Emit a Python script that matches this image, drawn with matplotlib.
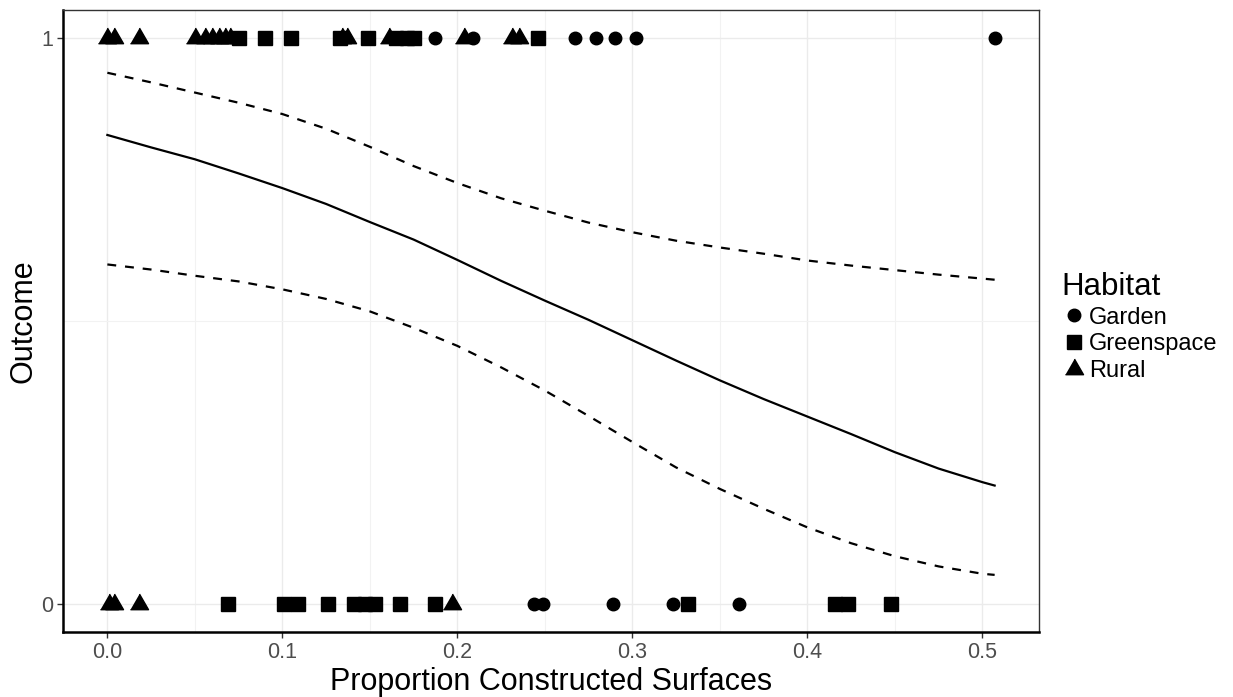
import matplotlib
matplotlib.use("Agg")
import matplotlib.pyplot as plt
from matplotlib.lines import Line2D

plt.rcParams["font.family"] = ["Liberation Sans", "DejaVu Sans"]

# observed points: proportion constructed surfaces, by habitat and outcome
garden_1 = [0.187, 0.209, 0.267, 0.279, 0.290, 0.302, 0.507]
garden_0 = [0.244, 0.249, 0.289, 0.323, 0.361]
green_1 = [0.075, 0.090, 0.105, 0.133, 0.149, 0.165, 0.171, 0.175, 0.246]
green_0 = [0.069, 0.101, 0.109, 0.126, 0.141, 0.147, 0.153, 0.167, 0.187,
           0.332, 0.416, 0.423, 0.448]
rural_1 = [0.000, 0.004, 0.018, 0.050, 0.056, 0.060, 0.064, 0.067, 0.070,
           0.134, 0.137, 0.161, 0.204, 0.231, 0.235]
rural_0 = [0.001, 0.004, 0.018, 0.197]

# fitted curve and confidence band
fit_x = [0.0, 0.025, 0.05, 0.075, 0.1, 0.125, 0.15, 0.175, 0.2, 0.225, 0.25,
         0.275, 0.3, 0.325, 0.35, 0.375, 0.4, 0.425, 0.45, 0.475, 0.5, 0.507]
fit_y = [0.829, 0.807, 0.786, 0.761, 0.735, 0.707, 0.675, 0.644, 0.608, 0.571,
         0.536, 0.502, 0.466, 0.430, 0.395, 0.362, 0.331, 0.300, 0.268, 0.239,
         0.215, 0.209]
upper = [0.939, 0.922, 0.904, 0.886, 0.866, 0.840, 0.808, 0.774, 0.744, 0.717,
         0.695, 0.674, 0.657, 0.642, 0.630, 0.619, 0.607, 0.598, 0.590, 0.582,
         0.575, 0.573]
lower = [0.600, 0.591, 0.580, 0.570, 0.556, 0.539, 0.517, 0.488, 0.456, 0.418,
         0.377, 0.332, 0.286, 0.241, 0.203, 0.168, 0.135, 0.107, 0.084, 0.066,
         0.053, 0.051]

tri = [(-1, -0.5774), (1, -0.5774), (0, 1.1547)]

fig = plt.figure(figsize=(12.33, 6.97), dpi=100)
ax = fig.add_axes([63 / 1233, 1 - 632 / 697, (1039 - 63) / 1233, (632 - 10) / 697])

ax.plot(fit_x, fit_y, color="black", lw=1.6, zorder=2)
ax.plot(fit_x, upper, color="black", lw=1.6, ls=(0, (4, 4)), zorder=2)
ax.plot(fit_x, lower, color="black", lw=1.6, ls=(0, (4, 4)), zorder=2)

ms = dict(color="black", ls="none", zorder=3)
ax.plot(garden_1, [1] * len(garden_1), marker="o", ms=9, **ms)
ax.plot(garden_0, [0] * len(garden_0), marker="o", ms=9, **ms)
ax.plot(green_1, [1] * len(green_1), marker="s", ms=9.5, **ms)
ax.plot(green_0, [0] * len(green_0), marker="s", ms=9.5, **ms)
ax.plot(rural_1, [1] * len(rural_1), marker=tri, ms=15, **ms)
ax.plot(rural_0, [0] * len(rural_0), marker=tri, ms=15, **ms)

ax.set_xlim(-0.02535, 0.53235)
ax.set_ylim(-0.05, 1.05)
ax.set_xticks([0.0, 0.1, 0.2, 0.3, 0.4, 0.5])
ax.set_xticklabels(["0.0", "0.1", "0.2", "0.3", "0.4", "0.5"])
ax.set_yticks([0, 1])
ax.set_yticklabels(["0", "1"])
ax.set_xticks([0.05, 0.15, 0.25, 0.35, 0.45], minor=True)
ax.set_yticks([0.5], minor=True)
ax.grid(True, which="major", color="#EBEBEB", lw=1.0, zorder=0)
ax.grid(True, which="minor", color="#F2F2F2", lw=0.8, zorder=0)
ax.set_axisbelow(True)
ax.tick_params(which="major", length=4, width=1, color="#333333",
               labelsize=15.5, labelcolor="#4D4D4D", pad=3)
ax.tick_params(which="minor", length=0)

for side in ["left", "bottom"]:
    ax.spines[side].set_linewidth(1.8)
    ax.spines[side].set_color("black")
for side in ["top", "right"]:
    ax.spines[side].set_linewidth(1.0)
    ax.spines[side].set_color("#333333")

ax.set_xlabel("Proportion Constructed Surfaces", fontsize=22, labelpad=3)
ax.set_ylabel("Outcome", fontsize=22, labelpad=2)

handles = [
    Line2D([], [], marker="o", ms=9, color="black", ls="none"),
    Line2D([], [], marker="s", ms=9.5, color="black", ls="none"),
    Line2D([], [], marker=tri, ms=15, color="black", ls="none"),
]
leg = fig.legend(handles, ["Garden", "Greenspace", "Rural"], title="Habitat",
                 loc="upper left", bbox_to_anchor=(1050 / 1233, 1 - 260 / 697),
                 frameon=False, fontsize=17, title_fontsize=22.5,
                 handletextpad=0.15, handlelength=1.0, labelspacing=0.2,
                 borderpad=0, alignment="left")

fig.savefig("out.png", dpi=100)
plt.close(fig)
